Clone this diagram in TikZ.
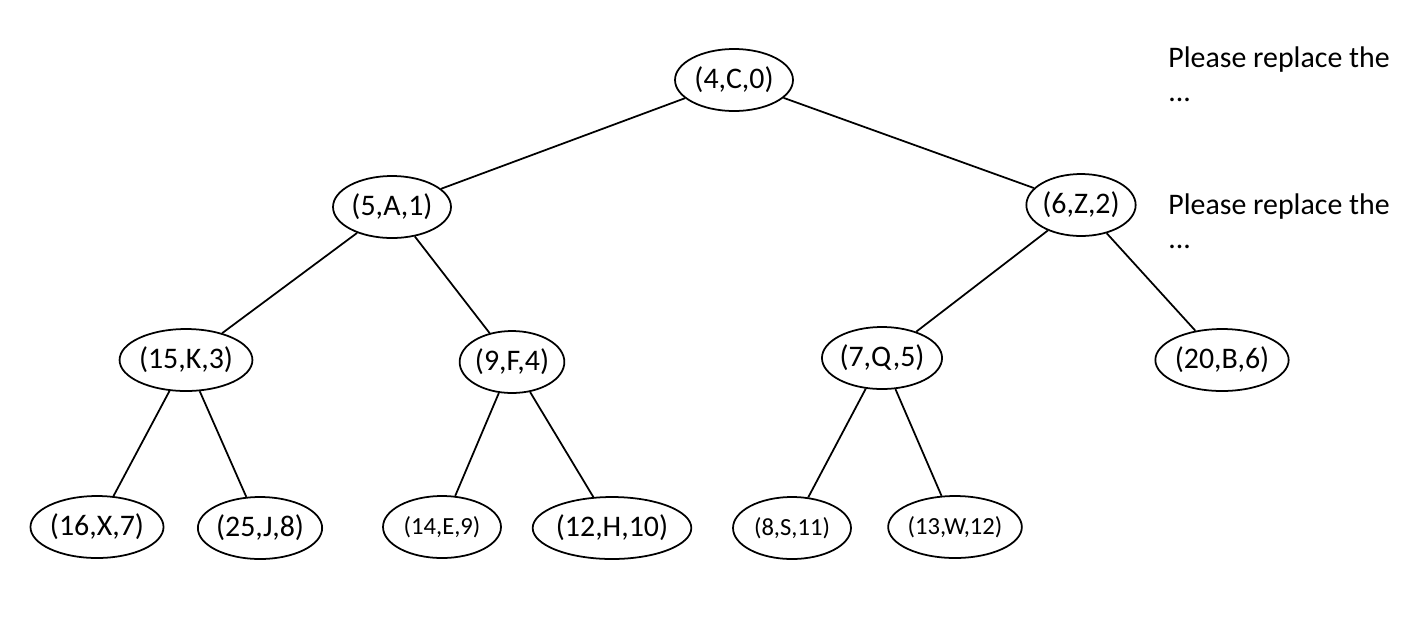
\documentclass[tikz,border=0pt]{standalone}
\usepackage{fontspec}
\setmainfont{Carlito}
\usetikzlibrary{shapes.geometric}
\begin{document}
\begin{tikzpicture}[x=0.02cm,y=-0.02cm]
        \tikzset{heapnode/.style={draw, ellipse, line width=1pt, inner sep=0pt,
            minimum width=118\pgflinewidth, minimum height=62\pgflinewidth, font=\fontsize{17}{20}\selectfont},
          smallnode/.style={heapnode, font=\fontsize{14}{17}\selectfont},
          note/.style={anchor=west, font=\fontsize{17}{20}\selectfont, inner sep=0pt}}
        \useasboundingbox[clip] (0,0) rectangle (1408,626);
        \node [heapnode, minimum width=2.36cm, minimum height=1.24cm] (n0) at (734,80) {(4,C,0)};
        \node [heapnode, minimum width=2.36cm, minimum height=1.24cm] (n1) at (392,207) {(5,A,1)};
        \node [heapnode, minimum width=2.04cm, minimum height=1.24cm] (n2) at (1081,205) {(6,Z,2)};
        \node [heapnode, minimum width=2.36cm, minimum height=1.24cm] (n3) at (186,360) {(15,K,3)};
        \node [heapnode, minimum width=1.92cm, minimum height=1.24cm] (n4) at (512,362) {(9,F,4)};
        \node [heapnode, minimum width=2.36cm, minimum height=1.24cm] (n5) at (882,358) {(7,Q,5)};
        \node [heapnode, minimum width=2.36cm, minimum height=1.24cm] (n6) at (1222,360) {(20,B,6)};
        \node [heapnode, minimum width=2.36cm, minimum height=1.24cm] (n7) at (97,527) {(16,X,7)};
        \node [heapnode, minimum width=2.36cm, minimum height=1.24cm] (n8) at (260,528) {(25,J,8)};
        \node [smallnode, minimum width=2.36cm, minimum height=1.24cm] (n9) at (442,527) {(14,E,9)};
        \node [heapnode, minimum width=2.36cm, minimum height=1.24cm] (n10) at (612,528) {(12,H,10)};
        \node [smallnode, minimum width=2.36cm, minimum height=1.24cm] (n11) at (792,528) {(8,S,11)};
        \node [smallnode, minimum width=2.36cm, minimum height=1.24cm] (n12) at (955,527) {(13,W,12)};
        \node [note] (t1) at (1168,60) {Please replace the};
        \node [note] (d1) at (1168,100) {...};
        \node [note] (t2) at (1168,207) {Please replace the};
        \node [note] (d2) at (1168,247) {...};
        \foreach \p/\c in {n0/n1,n0/n2,n1/n3,n1/n4,n2/n5,n2/n6,n3/n7,n3/n8,n4/n9,n4/n10,n5/n11,n5/n12}
          \draw [line width=1pt] (\p) -- (\c);
\end{tikzpicture}
\end{document}
